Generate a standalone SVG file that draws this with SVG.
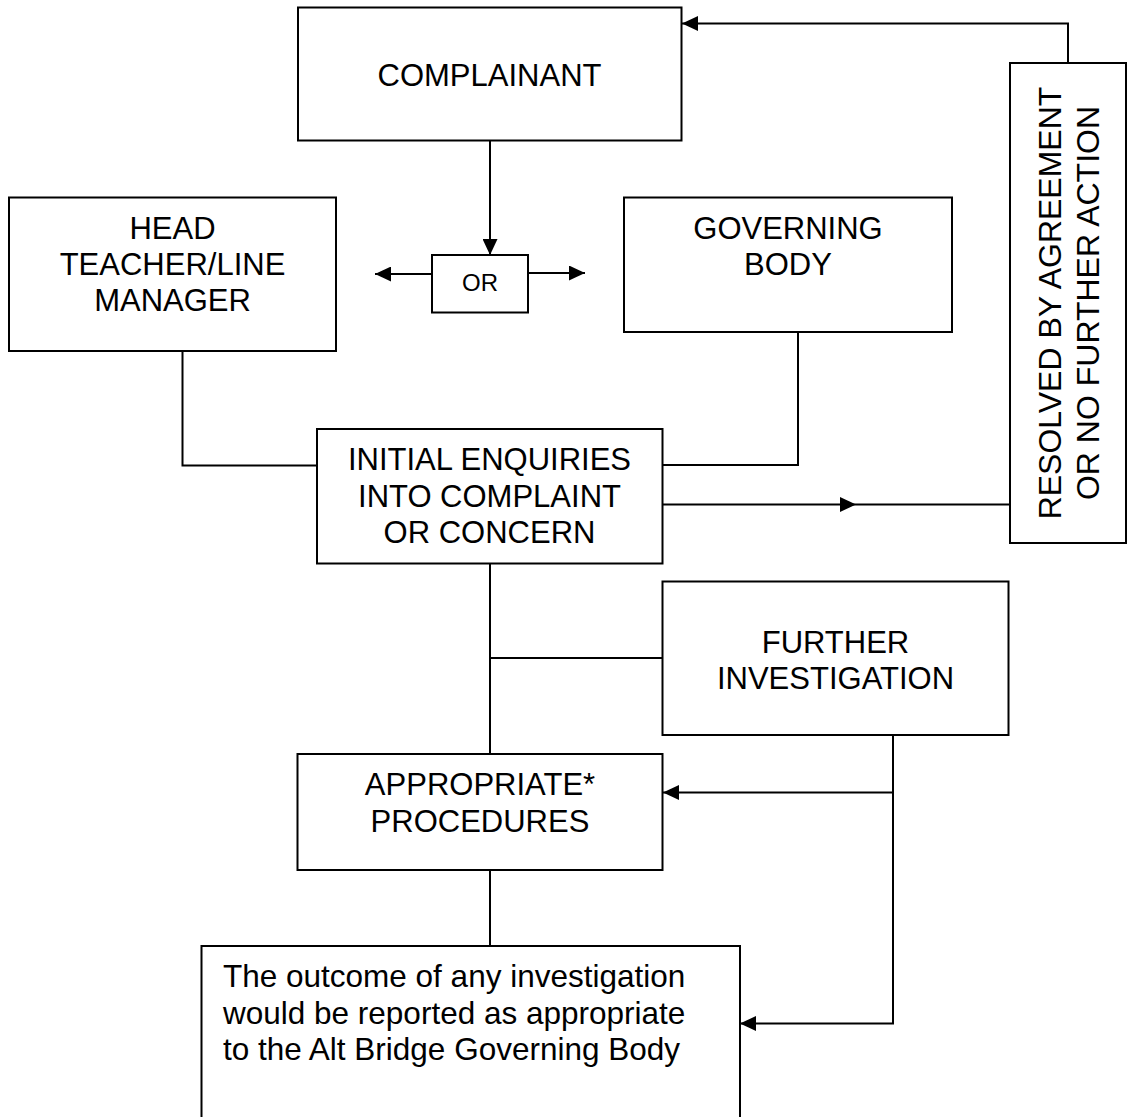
<svg xmlns="http://www.w3.org/2000/svg" width="1127" height="1117" viewBox="0 0 1127 1117">
<style>
.box{fill:#fff;stroke:#000;stroke-width:2}
.t{font-family:"Liberation Sans",Arial,sans-serif;font-size:31px;fill:#000;text-anchor:middle}
.tl{font-family:"Liberation Sans",Arial,sans-serif;font-size:31.5px;fill:#000}
.c{fill:none;stroke:#000;stroke-width:2}
</style>
<defs>
<marker id="ah" markerUnits="userSpaceOnUse" markerWidth="16" markerHeight="15" refX="16" refY="7.5" orient="auto">
<path d="M0,0 L16,7.5 L0,15 z" fill="#000"/>
</marker>
</defs>
<rect width="1127" height="1117" fill="#fff"/>
<g id="connectors">
<line class="c" x1="490" y1="141" x2="490" y2="255" marker-end="url(#ah)"/>
<line class="c" x1="432" y1="274" x2="375" y2="274" marker-end="url(#ah)"/>
<line class="c" x1="528" y1="273" x2="585" y2="273" marker-end="url(#ah)"/>
<polyline class="c" points="1068,63 1068,23.5 682,23.5" marker-end="url(#ah)"/>
<line class="c" x1="663" y1="504.5" x2="856" y2="504.5" marker-end="url(#ah)"/>
<line class="c" x1="856" y1="504.5" x2="1010" y2="504.5"/>
<polyline class="c" points="182.5,351 182.5,465.5 317,465.5"/>
<polyline class="c" points="798,332 798,465 663,465"/>
<line class="c" x1="490" y1="563" x2="490" y2="754"/>
<line class="c" x1="490" y1="658" x2="662" y2="658"/>
<polyline class="c" points="893,735 893,1023.5 740,1023.5" marker-end="url(#ah)"/>
<line class="c" x1="893" y1="792.5" x2="663" y2="792.5" marker-end="url(#ah)"/>
<line class="c" x1="490" y1="870" x2="490" y2="946"/>
</g>
<g id="complainant">
<rect class="box" x="298" y="7.5" width="383.5" height="133"/>
<text class="t" x="489.5" y="86">COMPLAINANT</text>
</g>
<g id="or">
<rect class="box" x="432" y="255" width="96" height="57.5"/>
<text class="t" x="480" y="291" style="font-size:24px">OR</text>
</g>
<g id="head">
<rect class="box" x="9" y="197.5" width="327" height="153.5"/>
<text class="t" x="172.5" y="238.5">HEAD</text>
<text class="t" x="172.5" y="274.5">TEACHER/LINE</text>
<text class="t" x="172.5" y="310.5">MANAGER</text>
</g>
<g id="governing">
<rect class="box" x="624" y="197.5" width="328" height="134.5"/>
<text class="t" x="788" y="238.5">GOVERNING</text>
<text class="t" x="788" y="275">BODY</text>
</g>
<g id="resolved">
<rect class="box" x="1010" y="63" width="116" height="480"/>
<text class="t" transform="translate(1061,303) rotate(-90)" style="font-size:32px">RESOLVED BY AGREEMENT</text>
<text class="t" transform="translate(1099,303) rotate(-90)" style="font-size:32px">OR NO FURTHER ACTION</text>
</g>
<g id="initial">
<rect class="box" x="317" y="429" width="345.5" height="134.5"/>
<text class="t" x="489.5" y="470">INITIAL ENQUIRIES</text>
<text class="t" x="489.5" y="506.5">INTO COMPLAINT</text>
<text class="t" x="489.5" y="543">OR CONCERN</text>
</g>
<g id="further">
<rect class="box" x="662.5" y="581.5" width="346" height="153.5"/>
<text class="t" x="835.5" y="652.5">FURTHER</text>
<text class="t" x="835.5" y="689">INVESTIGATION</text>
</g>
<g id="appropriate">
<rect class="box" x="297.5" y="754" width="365" height="116"/>
<text class="t" x="480" y="795">APPROPRIATE*</text>
<text class="t" x="480" y="831.5">PROCEDURES</text>
</g>
<g id="outcome">
<rect class="box" x="201.5" y="946" width="538.5" height="180"/>
<text class="tl" x="223" y="987">The outcome of any investigation</text>
<text class="tl" x="223" y="1023.5">would be reported as appropriate</text>
<text class="tl" x="223" y="1060">to the Alt Bridge Governing Body</text>
</g>
</svg>
